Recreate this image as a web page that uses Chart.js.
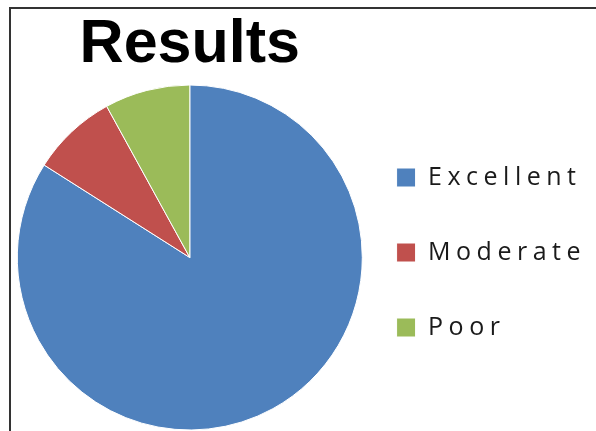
<!DOCTYPE html>
<html>
<head>
<meta charset="utf-8">
<script src="https://cdn.jsdelivr.net/npm/chart.js@4.4.1/dist/chart.umd.min.js"></script>
<style>
  html, body { margin: 0; padding: 0; background: #fff; }
  #wrap { position: relative; width: 596px; height: 431px; overflow: hidden; }
  #frame { position: absolute; left: 9px; top: 7px; right: -10px; bottom: -10px;
           border-top: 2px solid #333; border-left: 2px solid #333; }
  canvas { position: absolute; left: 0; top: 0; }
</style>
</head>
<body>
<div id="wrap">
  <div id="frame"></div>
  <canvas id="c" width="596" height="431"></canvas>
</div>
<script>
const titleText = 'Results';
const categories = ['Excellent', 'Moderate', 'Poor'];
const values = [84, 8, 8];
const colors = ['#4F81BD', '#C0504D', '#9BBB59'];

const LEGEND_SPACING = '5.5px';
const LEGEND_SHIFT_Y = -5;
try {
  const LegendEl = Chart.registry.getPlugin('legend')._element;
  const origFit = LegendEl.prototype.fit;
  LegendEl.prototype.fit = function (...args) {
    const c = this.ctx;
    const prev = c.letterSpacing;
    c.letterSpacing = LEGEND_SPACING;
    try { return origFit.apply(this, args); } finally { c.letterSpacing = prev; }
  };
  const origDraw = LegendEl.prototype.draw;
  LegendEl.prototype.draw = function (...args) {
    const c = this.ctx;
    c.save();
    c.translate(0, LEGEND_SHIFT_Y);
    c.letterSpacing = LEGEND_SPACING;
    try { return origDraw.apply(this, args); } finally { c.restore(); }
  };
} catch (e) {}

new Chart(document.getElementById('c'), {
  type: 'pie',
  data: {
    labels: categories,
    datasets: [{
      data: values,
      backgroundColor: colors,
      borderColor: '#ffffff',
      borderWidth: 1,
      radius: 172.5,
      clip: false
    }]
  },
  options: {
    responsive: false,
    animation: false,
    layout: { padding: { left: 33, right: 0, top: 0, bottom: 1 } },
    plugins: {
      tooltip: { enabled: false },
      title: {
        display: true,
        text: titleText,
        fullSize: false,
        color: '#000',
        font: { family: 'Liberation Sans', size: 61, weight: 'bold', lineHeight: 1 },
        padding: { top: 15, bottom: 9 }
      },
      legend: {
        position: 'right',
        fullSize: false,
        labels: {
          color: '#1a1a1a',
          font: { family: 'Open Sans', size: 25 },
          boxWidth: 19,
          boxHeight: 19,
          padding: 50
        }
      }
    }
  }
});
</script>
</body>
</html>
